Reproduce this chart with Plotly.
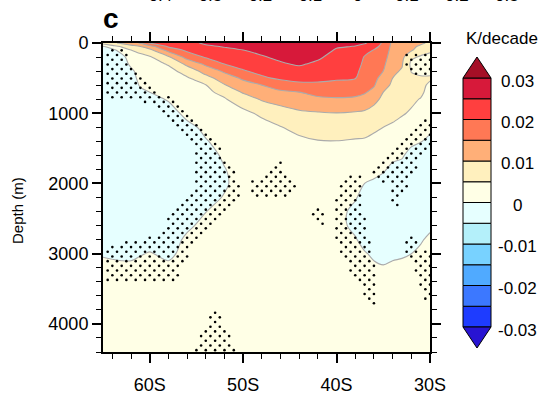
import numpy as np
import plotly.graph_objects as go

# ---------------- data ----------------
lats = [-65, -64, -63, -62, -61, -60, -58, -56, -54, -52, -50, -48, -46, -44, -42,
        -40, -38, -37, -36, -35, -34, -33, -32, -31, -30]
depths = [0, 50, 100, 200, 300, 400, 500, 600, 700, 800, 1000, 1200, 1400, 1600, 1800,
          2000, 2200, 2400, 2600, 2800, 3000, 3200, 3500, 4000, 4400]

# temperature trend profiles (10^-3 K/decade), one list per latitude, values at `depths`
trend_mK = [
    [7, -0.5, -2, -2.5, -2.5, -2.5, -2.5, -2.5, -2.5, -2.5, -2.5, -2.5, -2.5, -2.5, -2.5, -2.5, -2.5, -2.5, -2.5, -2.5, -0.5, 1.5, 2, 2, 2],
    [9, 3, -1.5, -2.5, -2.5, -2.5, -2.5, -2.5, -2.5, -2.5, -2.5, -2.5, -2.5, -2.5, -2.5, -2.5, -2.5, -2.5, -2.5, -2.5, -1, 1.5, 2, 2, 2],
    [11, 5.5, 2.5, -2, -2.5, -2.5, -2.5, -2.5, -2.5, -2.5, -2.5, -2.5, -2.5, -2.5, -2.5, -2.5, -2.5, -2.5, -2.5, -2.5, -1, 1, 2, 2, 2],
    [13, 8, 5, 3, 1, -1, -2, -2.5, -2.5, -2.5, -2.5, -2.5, -2.5, -2.5, -2.5, -2.5, -2.5, -2.5, -2.5, -2.5, -1, 1, 2, 2, 2],
    [15.5, 10, 6.5, 3.5, 2.5, 2, 1.5, 0.5, -1, -2, -2.5, -2.5, -2.5, -2.5, -2.5, -2.5, -2.5, -2.5, -2.5, -2, -0.3, 1.5, 2, 2, 2],
    [20.5, 13, 8.75, 4.5, 3, 2.5, 2, 1, 0, -1.5, -2.5, -2.5, -2.5, -2.5, -2.5, -2.5, -2.5, -2.5, -2.5, -2, 0.3, 1.5, 2, 2, 2],
    [22, 20.6, 17, 9.2, 5.4, 3.5, 3, 2.5, 1.5, 0.4, -2, -2.5, -2.5, -2.5, -2.5, -2.5, -2.5, -2.5, -2.5, -2.5, -1, 1, 2, 2, 2],
    [23.5, 22, 21, 16.9, 11.1, 6.9, 4.5, 3.5, 3, 2.5, 1.3, -1.2, -2.5, -2.5, -2.5, -2.5, -2.5, -2.5, -1, 1, 1.5, 2, 2, 2, 2],
    [25.8, 24.2, 22.9, 20.5, 16, 12, 8.2, 4.8, 4, 3.5, 2.5, 1, -0.3, -2, -2.5, -2.5, -1.5, -0.1, 1.5, 2, 2, 2, 2, 2, 2],
    [26.2, 25.3, 24, 22, 20, 15.8, 12.6, 9.7, 6.3, 4.6, 3.5, 2.5, 1.5, 0.8, -0.2, -0.6, 0.3, 1.5, 2, 2, 2, 2, 2, 2, 2],
    [26.5, 25.8, 25, 23.3, 21.6, 19.6, 15.8, 13, 10.5, 7.6, 3.8, 2.5, 2, 2, 2, 2, 2, 2, 2, 2, 2, 2, 2, 2, 2],
    [27, 26.4, 25.9, 24.7, 23, 21.3, 19.2, 15, 12.7, 10.5, 5.9, 3.3, 2.5, 2, 2, 2, 2, 2, 2, 2, 2, 2, 2, 2, 2],
    [27.5, 27, 26.6, 25.7, 24.6, 22.7, 20.8, 17.5, 14.1, 11.8, 8, 4.8, 3, 2.5, 2, 2, 2, 2, 2, 2, 2, 2, 2, 2, 2],
    [28, 27.6, 27.1, 26.3, 25.4, 23.8, 21.5, 18.8, 15, 12.9, 9.2, 6.4, 4, 2.8, 2.2, 2, 2, 2, 2, 2, 2, 2, 2, 2, 2],
    [27.5, 27, 26.5, 25.6, 24.3, 22.7, 21.1, 19.1, 16.6, 14, 9.6, 7.2, 4.8, 3.2, 2.5, 2, 2, 2, 2, 2, 2, 2, 2, 2, 2],
    [26, 25.3, 24.7, 23.6, 22.6, 21.6, 20.5, 18.9, 16.7, 14.5, 9.9, 7.4, 4.9, 3.2, 2.5, 2, 2, 2, 2, 2, 2, 2, 2, 2, 2],
    [25.5, 24.9, 24.4, 23.4, 22.3, 21.3, 20.2, 18.4, 16.4, 14.2, 9.5, 6.9, 4.6, 3.2, 2.5, 2, 0.5, -1.5, -1.5, 0.5, 2, 2, 2, 2, 2],
    [25.3, 24, 22, 19.6, 18.8, 17.9, 17.1, 16.3, 15.4, 13.6, 9.1, 6.6, 4.5, 3, 2, 0, -2, -2, -2, -2, 0.5, 2, 2, 2, 2],
    [24, 21.5, 19.8, 18.9, 18.1, 17.2, 16.3, 15.4, 13.8, 11.3, 8.2, 5.7, 4, 2.5, 1, -0.5, -2, -2, -2, -2, -1, 1, 2, 2, 2],
    [19, 18.5, 18, 17, 16, 15, 13.3, 11.7, 10, 9, 7, 5, 3.5, 2, 0.5, -1.5, -2, -2, -2, -2, -2, 0.5, 2, 2, 2],
    [14, 13.6, 13.2, 12.4, 11.6, 10.8, 10, 9.2, 8.4, 7.6, 6, 4.5, 3, 1, -1, -2, -2, -2, -2, -2, -1, 1, 2, 2, 2],
    [13, 12.6, 12.2, 11.3, 10.4, 9.6, 8.9, 8.2, 7.5, 6.8, 5.4, 3.5, 2, 0.5, -1.5, -2, -2, -2, -2, -2, -0.5, 1, 2, 2, 2],
    [12, 11.3, 10.7, 5.8, 4, 4.8, 6, 6.5, 6.3, 5.8, 4.5, 2.5, 1, -1.5, -2, -2, -2, -2, -2, -1.5, 0, 1.5, 2, 2, 2],
    [11, 9, 7, 4.5, 3.5, 4, 5.5, 6, 5.8, 4.8, 3, 2, 0.2, -2, -2, -2, -2, -2, -2, -0.5, 1, 2, 2, 2, 2],
    [9, 7.5, 6, 3.5, 3, 4, 5.5, 4.3, 3.5, 3, 2.5, 1.5, -1.5, -2, -2, -2, -2, -2, -1, 1, 2, 2, 2, 2, 2],
]

# stippled (significant) regions, (lat, depth) outlines
stip_A = [(-64.9, 67), (-62.7, 67), (-62.1, 267), (-61.1, 496), (-60.0, 596), (-57.3, 810), (-55.2, 1096),
          (-52.8, 1382), (-51.6, 1668), (-50.7, 1882), (-50.2, 2096), (-50.7, 2239), (-52.2, 2482),
          (-53.9, 2711), (-55.7, 2954), (-56.5, 3197), (-57.1, 3411), (-64.9, 3411), (-64.9, 2882),
          (-61.1, 2811), (-58.9, 2668), (-57.9, 2482), (-56.2, 2239), (-55.0, 1996), (-55.4, 1525),
          (-56.2, 1310), (-57.9, 1096), (-60.0, 882), (-62.7, 796), (-64.9, 796)]
stip_B = [(-46.0, 1680), (-49.4, 1990), (-48.7, 2230), (-45.4, 2230), (-44.3, 2050), (-45.4, 1800)]
stip_C = [(-42.3, 2350), (-43.0, 2470), (-41.3, 2640), (-41.3, 2420)]
stip_D1 = [(-39.1, 1840), (-37.5, 1840), (-36.9, 2025), (-37.5, 2240), (-36.9, 2525), (-36.2, 2880),
           (-35.9, 3170), (-35.9, 3740), (-36.5, 3740), (-37.5, 3450), (-38.6, 3240), (-39.9, 2950),
           (-40.2, 2600), (-40.4, 2240), (-39.6, 1980)]
stip_D2 = [(-36.4, 1882), (-35.1, 1696), (-34.1, 1553), (-33.0, 1439), (-31.3, 1182), (-29.9, 1039),
           (-29.9, 1525), (-31.3, 1739), (-32.4, 2025), (-33.5, 2330), (-34.3, 2330), (-34.3, 2025),
           (-35.9, 1982)]
stip_D3 = [(-32.6, 2754), (-31.7, 2754), (-31.1, 2954), (-29.9, 2954), (-29.9, 3668), (-30.6, 3668),
           (-31.3, 3382), (-32.1, 3125), (-32.6, 2954)]
stip_D4 = [(-32.8, 150), (-29.9, 150), (-29.9, 470), (-31.7, 470), (-32.8, 330)]
stip_E = [(-52.9, 3680), (-52.3, 3900), (-51.8, 4100), (-50.8, 4300), (-50.8, 4420), (-55.1, 4420),
          (-54.6, 4150), (-53.7, 3950), (-53.3, 3800)]
stip_regions = [stip_A, stip_B, stip_C, stip_D1, stip_D2, stip_D3, stip_D4, stip_E]
stip_dlat, stip_ddep, stip_dep0 = 0.5, 66.7, 105.0

levels = [-0.03, -0.025, -0.02, -0.015, -0.01, -0.005, 0, 0.005, 0.01, 0.015, 0.02, 0.025, 0.03]
level_colors = ['#2814D2', '#1E3CFF', '#3C78FF', '#50AAFF', '#78D2FF', '#B4F0FA', '#E6FFFF',
                '#FFFFE6', '#FFF0BE', '#FFAF78', '#FF7855', '#FF3F3F', '#D7193A', '#A50F26']
cbar_labels = ['-0.03', '-0.02', '-0.01', '0', '0.01', '0.02', '0.03']
cbar_label_vals = [-0.03, -0.02, -0.01, 0, 0.01, 0.02, 0.03]
xtick_vals = [-60, -50, -40, -30]
xtick_text = ['60S', '50S', '40S', '30S']
ytick_vals = [0, 1000, 2000, 3000, 4000]
top_cut_labels = ['-0.4', '-0.3', '-0.2', '-0.1', '0', '0.1', '0.2', '0.3']

# ---------------- figure ----------------
W, H = 546, 394
L, R, T, B = 103, 430, 43, 352
FONT = 'Liberation Sans, Arial, Helvetica, sans-serif'


def px2x(px):
    return (px - L) / (R - L)


def py2y(py):
    return (B - py) / (B - T)


z = np.array(trend_mK).T / 1000.0

n = len(level_colors)
colorscale = [[i / (n - 1), c] for i, c in enumerate(level_colors)]

fig = go.Figure()
fig.add_trace(go.Contour(
    x=lats, y=depths, z=z,
    contours=dict(start=levels[0], end=levels[-1], size=0.005, coloring='fill', showlines=True),
    line=dict(color='#ABABAB', width=1.1, smoothing=0.9),
    colorscale=colorscale, showscale=False, hoverinfo='skip'))


def inside(x, y, poly):
    c = False
    j = len(poly) - 1
    for i in range(len(poly)):
        xi, yi = poly[i]
        xj, yj = poly[j]
        if ((yi > y) != (yj > y)) and (x < (xj - xi) * (y - yi) / (yj - yi) + xi):
            c = not c
        j = i
    return c


dot_lat, dot_dep = [], []
nlat = int(round((lats[-1] - lats[0]) / stip_dlat)) + 1
k = 0
d = stip_dep0
while d <= depths[-1]:
    for i in range(nlat):
        if (i + k) % 2:
            continue
        la = lats[0] + i * stip_dlat
        if any(inside(la, d, p) for p in stip_regions):
            dot_lat.append(la)
            dot_dep.append(d)
    k += 1
    d = stip_dep0 + k * stip_ddep

fig.add_trace(go.Scatter(x=dot_lat, y=dot_dep, mode='markers',
                         marker=dict(color='black', size=2.6, line_width=0),
                         hoverinfo='skip', cliponaxis=True))

shapes = []
annotations = []

# colour bar (drawn from levels / colours)
cb_l, cb_r = 463, 491
cb_top, cb_bot = 78, 327
tri_h = 21
nbox = len(levels) - 1


def lev_py(v):
    return cb_bot - (v - levels[0]) / (levels[-1] - levels[0]) * (cb_bot - cb_top)


for i in range(nbox):
    y0 = lev_py(levels[i])
    y1 = lev_py(levels[i + 1])
    shapes.append(dict(type='rect', xref='paper', yref='paper',
                       x0=px2x(cb_l), x1=px2x(cb_r), y0=py2y(y0), y1=py2y(y1),
                       fillcolor=level_colors[i + 1], line=dict(color='black', width=1)))
xm = (cb_l + cb_r) / 2
top_path = 'M {} {} L {} {} L {} {} Z'.format(px2x(cb_l), py2y(cb_top), px2x(cb_r), py2y(cb_top),
                                              px2x(xm), py2y(cb_top - tri_h))
bot_path = 'M {} {} L {} {} L {} {} Z'.format(px2x(cb_l), py2y(cb_bot), px2x(cb_r), py2y(cb_bot),
                                              px2x(xm), py2y(cb_bot + tri_h))
shapes.append(dict(type='path', xref='paper', yref='paper', path=top_path,
                   fillcolor=level_colors[-1], line=dict(color='black', width=1)))
shapes.append(dict(type='path', xref='paper', yref='paper', path=bot_path,
                   fillcolor=level_colors[0], line=dict(color='black', width=1)))

for txt, v in zip(cbar_labels, cbar_label_vals):
    annotations.append(dict(text=txt, xref='paper', yref='paper', x=px2x(517), y=py2y(lev_py(v) + 3),
                            xanchor='center', yanchor='middle', showarrow=False,
                            font=dict(family=FONT, size=17, color='black')))
annotations.append(dict(text='K/decade', xref='paper', yref='paper', x=px2x(502), y=py2y(38),
                        xanchor='center', yanchor='middle', showarrow=False,
                        font=dict(family=FONT, size=17, color='black')))
annotations.append(dict(text='<b>c</b>', xref='paper', yref='paper', x=px2x(101), y=py2y(36),
                        xanchor='left', yanchor='bottom', showarrow=False,
                        font=dict(family=FONT, size=28, color='black')))
annotations.append(dict(text='Depth (m)', xref='paper', yref='paper', x=px2x(17), y=py2y(211),
                        xanchor='center', yanchor='middle', textangle=-90, showarrow=False,
                        font=dict(family=FONT, size=15, color='black')))
for i, t in enumerate(top_cut_labels):
    annotations.append(dict(text=t, xref='paper', yref='paper', x=px2x(157 + 50 * i), y=py2y(7),
                            xanchor='center', yanchor='bottom', showarrow=False,
                            font=dict(family=FONT, size=17, color='black')))

axis_common = dict(showline=True, linewidth=2, linecolor='black', mirror='ticks', ticks='outside',
                   tickwidth=1.5, tickcolor='black', showgrid=False, zeroline=False, automargin=False,
                   tickfont=dict(family=FONT, size=18, color='black'))

fig.update_layout(
    width=W, height=H, autosize=False,
    margin=dict(l=L, r=W - R, t=T, b=H - B, pad=0, autoexpand=False),
    paper_bgcolor='white', plot_bgcolor='white',
    showlegend=False,
    xaxis=dict(range=[-65, -30], tickmode='array', tickvals=xtick_vals, ticktext=xtick_text,
               ticklen=9, ticklabelstandoff=6,
               minor=dict(tickmode='linear', tick0=0, dtick=2, ticklen=5, tickwidth=1.2,
                          ticks='outside', tickcolor='black', showgrid=False),
               **axis_common),
    yaxis=dict(range=[4400, 0], tickmode='array', tickvals=ytick_vals,
               ticklen=9, minor=dict(tickmode='linear', tick0=0, dtick=200, ticklen=5, tickwidth=1.2,
                                     ticks='outside', tickcolor='black', showgrid=False),
               **axis_common),
    shapes=shapes, annotations=annotations,
)

fig.write_html('out.html', config={'displayModeBar': False},
               post_script="document.body.style.margin='0px';document.body.style.overflow='hidden';")
